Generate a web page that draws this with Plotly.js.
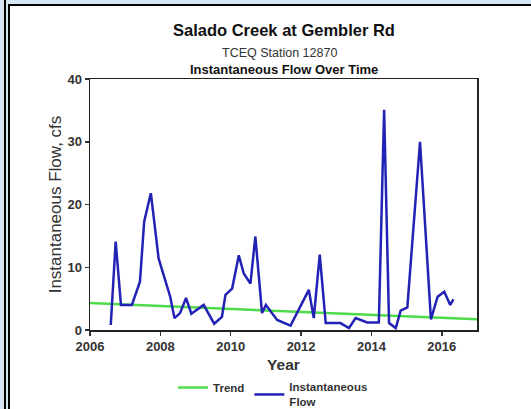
<!DOCTYPE html>
<html>
<head>
<meta charset="utf-8">
<script src="https://cdn.plot.ly/plotly-3.0.1.min.js"></script>
<style>
html,body{margin:0;padding:0;background:#fff;}
#wrap{position:relative;width:531px;height:409px;overflow:hidden;}
#chart{position:absolute;left:0;top:0;width:531px;height:409px;}
.f{position:absolute;z-index:5;}
</style>
</head>
<body>
<div id="wrap">
<div id="chart"></div>
<div class="f" style="left:0;top:0;width:531px;height:5px;background:#d5e5f3;"></div>
<div class="f" style="left:7px;top:4px;width:524px;height:2px;background:#000;"></div>
<div class="f" style="left:0;top:0;width:4px;height:409px;background:#d5e5f3;"></div>
<div class="f" style="left:4px;top:0;width:2px;height:409px;background:#000;"></div>
<div class="f" style="left:6px;top:0;width:2px;height:409px;background:#d5e5f3;"></div>
<div class="f" style="left:8px;top:4px;width:2px;height:405px;background:#000;"></div>
</div>
<script>
const flowYears = [2006.59, 2006.73, 2006.88, 2007.19, 2007.42, 2007.54, 2007.73, 2007.95, 2008.28, 2008.40,
  2008.56, 2008.73, 2008.88, 2009.23, 2009.53, 2009.75, 2009.85, 2010.04, 2010.23, 2010.37,
  2010.56, 2010.70, 2010.89, 2011.00, 2011.08, 2011.32, 2011.70, 2012.22, 2012.36, 2012.53,
  2012.70, 2013.12, 2013.36, 2013.55, 2013.88, 2014.21, 2014.36, 2014.50, 2014.69, 2014.83,
  2015.02, 2015.38, 2015.69, 2015.88, 2016.07, 2016.24, 2016.33];
const flowValues = [0.8, 14.1, 4.0, 4.0, 7.7, 17.3, 21.8, 11.4, 5.3, 1.9,
  2.7, 5.1, 2.6, 4.0, 1.0, 2.1, 5.6, 6.6, 11.9, 9.0,
  7.4, 14.9, 2.7, 4.0, 3.4, 1.6, 0.7, 6.4, 1.9, 12.0,
  1.1, 1.1, 0.3, 1.9, 1.2, 1.2, 35.1, 1.1, 0.3, 3.1,
  3.6, 30.0, 1.7, 5.3, 6.1, 4.0, 4.9];
const trendYears = [2006, 2017];
const trendValues = [4.3, 1.7];
const xTicks = [2006, 2008, 2010, 2012, 2014, 2016];
const yTicks = [0, 10, 20, 30, 40];

const font = 'Liberation Sans, Arial, sans-serif';
const traces = [
  {x: trendYears, y: trendValues, type: 'scatter', mode: 'lines', name: 'Trend',
   line: {color: '#4fdc4a', width: 2.5}},
  {x: flowYears, y: flowValues, type: 'scatter', mode: 'lines', name: 'Instantaneous<br>Flow',
   line: {color: '#2222b4', width: 2.5}}
];
const plotH = 409 - 79 - 79;
function py(px) { return (409 - 79 - px) / plotH; }
const layout = {
  width: 531, height: 409,
  margin: {l: 90, r: 54, t: 79, b: 79, autoexpand: false},
  paper_bgcolor: '#ffffff', plot_bgcolor: '#ffffff',
  font: {family: font, color: '#222'},
  showlegend: true,
  legend: {orientation: 'h', x: 0.473, xanchor: 'center', y: py(373), yanchor: 'top', valign: 'middle',
           font: {family: font, size: 11.5, color: '#333', weight: 'bold'},
           itemwidth: 30, tracegroupgap: 0, bgcolor: 'rgba(0,0,0,0)'},
  xaxis: {range: [2006, 2017], tickvals: xTicks, ticktext: xTicks.map(String),
          ticks: 'outside', ticklen: 4, tickwidth: 1.5, tickcolor: '#333',
          showline: true, linecolor: '#222', linewidth: 1.5, mirror: true,
          showgrid: false, zeroline: false,
          tickfont: {family: font, size: 13, color: '#333', weight: 'bold'},
          title: {text: 'Year', font: {family: font, size: 15.5, color: '#333', weight: 'bold'}, standoff: 6}},
  yaxis: {range: [0, 40], tickvals: yTicks, ticktext: yTicks.map(String),
          ticks: 'outside', ticklen: 4, tickwidth: 1.5, tickcolor: '#333',
          showline: true, linecolor: '#222', linewidth: 1.5, mirror: true,
          showgrid: false, zeroline: false,
          tickfont: {family: font, size: 13, color: '#333', weight: 'bold'},
          title: {text: 'Instantaneous Flow, cfs', font: {family: font, size: 17, color: '#333'}, standoff: 1}},
  annotations: [
    {text: 'Salado Creek at Gembler Rd', xref: 'paper', yref: 'paper', x: 0.5, y: py(30), yanchor: 'middle',
     showarrow: false, font: {family: font, size: 16.5, color: '#111', weight: 'bold'}},
    {text: 'TCEQ Station 12870', xref: 'paper', yref: 'paper', x: 0.49, y: py(53), yanchor: 'middle',
     showarrow: false, font: {family: font, size: 12.5, color: '#333'}},
    {text: 'Instantaneous Flow Over Time', xref: 'paper', yref: 'paper', x: 0.5, y: py(69), yanchor: 'middle',
     showarrow: false, font: {family: font, size: 13, color: '#111', weight: 'bold'}}
  ]
};
Plotly.newPlot('chart', traces, layout, {displayModeBar: false, staticPlot: true});
</script>
</body>
</html>
